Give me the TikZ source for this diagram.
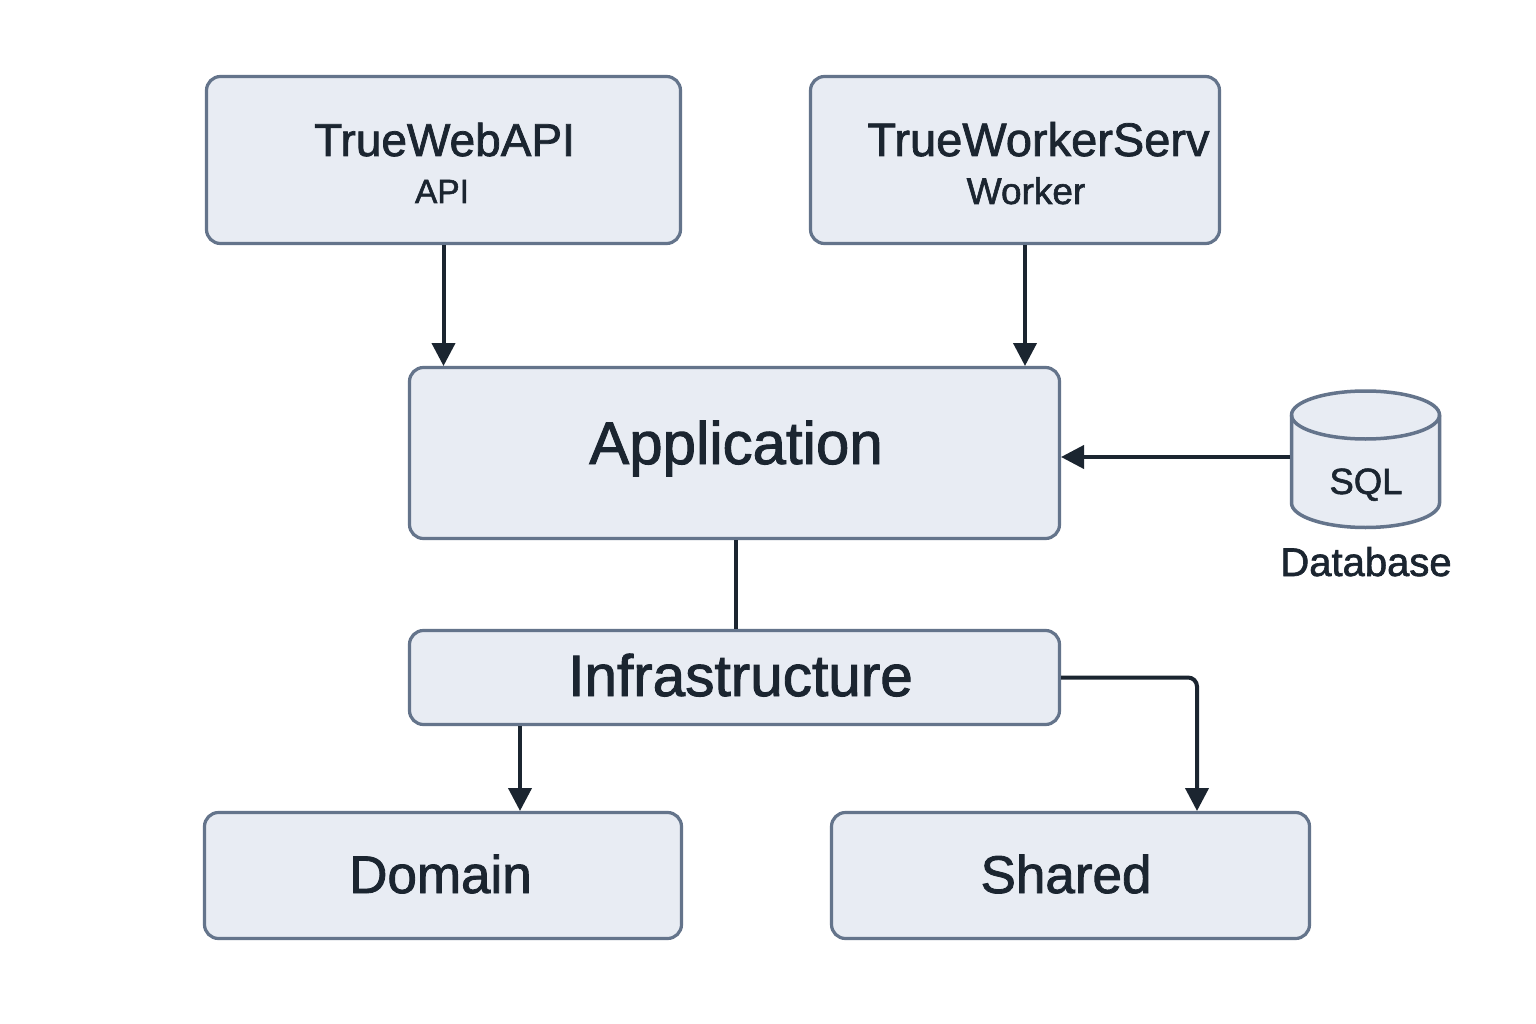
\documentclass[tikz,border=0pt]{standalone}
\usepackage{fontspec}
\setmainfont[FakeBold=1.6]{Liberation Sans}
\usetikzlibrary{arrows.meta,calc}
\definecolor{boxfill}{HTML}{E8ECF3}
\definecolor{boxline}{HTML}{64748B}
\definecolor{ink}{HTML}{1B2530}
\tikzset{
  box/.style={draw=boxline,fill=boxfill,line width=3.2pt,rounded corners=14pt,inner sep=0pt,outer sep=1.5pt},
  lab/.style={text=ink,anchor=base,inner sep=0pt},
  conn/.style={draw=ink,line width=4pt},
  arr/.style={conn,-{Triangle[length=23pt,width=23pt]}},
}
\newcommand{\fs}[1]{\fontsize{#1pt}{#1pt}\selectfont}
\begin{document}
\begin{tikzpicture}[x=1pt,y=-1pt]
\useasboundingbox (0,0) rectangle (1536,1024);
\fill[white] (0,0) rectangle (1536,1024);
% boxes
\node[box,minimum width=474pt,minimum height=167pt] (api) at (443.5,160) {};
\node[box,minimum width=409pt,minimum height=167pt] (worker) at (1015,160) {};
\node[box,minimum width=650pt,minimum height=171pt] (app) at (734.5,453) {};
\node[box,minimum width=650pt,minimum height=94pt] (infra) at (734.5,677.5) {};
\node[box,minimum width=477pt,minimum height=126pt] (domain) at (443,875.5) {};
\node[box,minimum width=478pt,minimum height=126pt] (shared) at (1070.5,875.5) {};
% database cylinder
\node[minimum width=151pt,minimum height=139pt,inner sep=0pt,outer sep=0pt] (db) at (1365.5,459.5) {};
\draw[boxline,fill=boxfill,line width=3.5pt]
  (1291.5,415) -- (1291.5,503)
  arc[start angle=180,end angle=0,x radius=74,y radius=24.5]
  -- (1439.5,415)
  arc[start angle=0,end angle=-180,x radius=74,y radius=24] -- cycle;
\draw[boxline,line width=3.5pt]
  (1291.5,415) arc[start angle=180,end angle=0,x radius=74,y radius=24];
% labels
\node[lab,font=\fs{46}] (t1) at (444.5,156) {TrueWebAPI};
\node[lab,font=\fs{33.5}] (t2) at (442,203) {API};
\node[lab,font=\fs{47}] (t3) at (1038.5,156) {TrueWorkerServ};
\node[lab,font=\fs{37}] (t4) at (1026,204) {Worker};
\node[lab,font=\fs{60}] (t5) at (736,464) {Application};
\node[lab,font=\fs{58.5}] (t6) at (740.5,696) {Infrastructure};
\node[lab,font=\fs{53}] (t7) at (440.5,893) {Domain};
\node[lab,font=\fs{53}] (t8) at (1066,893) {Shared};
\node[lab,font=\fs{36.5}] (t9) at (1366,494) {SQL};
\node[lab,font=\fs{40}] (t10) at (1366,576) {Database};
% connectors
\draw[arr] (api.south) -- (api.south |- app.north);
\draw[arr] ([xshift=10pt]worker.south) -- ([xshift=10pt]worker.south |- app.north);
\draw[arr] ([yshift=2.5pt]db.west) -- ([yshift=2.5pt]db.west -| app.east);
\draw[conn] ([xshift=1.5pt]app.south) -- ([xshift=1.5pt]app.south |- infra.north);
\draw[arr] ([xshift=-214.5pt]infra.south) -- ([xshift=-214.5pt]infra.south |- domain.north);
\draw[arr,rounded corners=9pt] (infra.east) -- (infra.east -| 1197,0) -- (1197,0 |- shared.north);
\end{tikzpicture}
\end{document}
